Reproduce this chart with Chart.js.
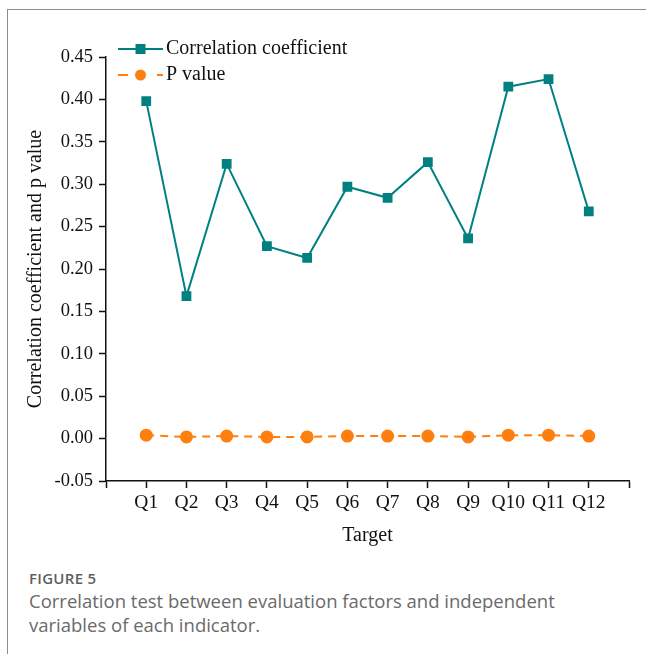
<!DOCTYPE html>
<html>
<head>
<meta charset="utf-8">
<script src="https://cdn.jsdelivr.net/npm/chart.js@4.4.1/dist/chart.umd.min.js"></script>
<style>
    html, body { margin: 0; padding: 0; background: #fff; }
    body { width: 646px; height: 654px; position: relative; overflow: hidden; }
    .frame {
        position: absolute; left: 7px; top: 9px; right: -5px; bottom: -5px;
        border-left: 1.5px solid #8c8c8c; border-top: 1.5px solid #8c8c8c;
    }
    #graph-box { position: absolute; left: 0; top: 0; width: 646px; height: 560px; }
    .caption {
        position: absolute; left: 29px; top: 567px; width: 610px;
        font-family: "Open Sans", "Noto Sans", sans-serif; color: #606060;
    }
    .caption .fig { font-size: 15px; font-weight: 600; letter-spacing: 0.3px; line-height: 22px; }
    .caption .txt { font-size: 18.5px; line-height: 24px; margin-top: 0px; color: #6a6a6a; }
</style>
</head>
<body>
<div class="frame"></div>
<div id="graph-box"><canvas id="graph"></canvas></div>
<div class="caption">
    <div class="fig">FIGURE 5</div>
    <div class="txt">Correlation test between evaluation factors and independent<br>variables of each indicator.</div>
</div>
<script>
const targets = ['Q1', 'Q2', 'Q3', 'Q4', 'Q5', 'Q6', 'Q7', 'Q8', 'Q9', 'Q10', 'Q11', 'Q12'];
const correlation = [0.398, 0.168, 0.324, 0.227, 0.213, 0.297, 0.284, 0.326, 0.236, 0.415, 0.424, 0.268];
const pValues = [0.004, 0.002, 0.003, 0.002, 0.002, 0.003, 0.003, 0.003, 0.002, 0.004, 0.004, 0.003];
const seriesNames = ['Correlation coefficient', 'P value'];

const serif = "'Liberation Serif', 'Times New Roman', serif";
const teal = '#008080';
const orange = '#ff7f0e';

function toPoints(values) {
    return values.map((v, i) => ({ x: i + 1, y: v }));
}

// legend drawn by hand so it can sit above the top of the plot area
const sideLegend = {
    id: 'sideLegend',
    afterDraw(chart) {
        const ctx = chart.ctx;
        const x0 = 118, x1 = 163, rowY = [49, 75];
        chart.data.datasets.forEach((ds, i) => {
            const y = rowY[i];
            ctx.save();
            ctx.strokeStyle = ds.borderColor;
            ctx.lineWidth = ds.borderWidth;
            ctx.beginPath();
            if (ds.borderDash) {
                ctx.moveTo(x0, y); ctx.lineTo(x0 + 10, y);
                ctx.moveTo(x1 - 6, y); ctx.lineTo(x1, y);
            } else {
                ctx.moveTo(x0, y); ctx.lineTo(x1, y);
            }
            ctx.stroke();
            ctx.fillStyle = ds.pointBackgroundColor;
            const cx = (x0 + x1) / 2;
            if (ds.pointStyle === 'rect') {
                ctx.fillRect(cx - 5, y - 5, 10, 10);
            } else {
                ctx.beginPath();
                ctx.arc(cx, y, 5.5, 0, Math.PI * 2);
                ctx.fill();
            }
            ctx.fillStyle = '#111';
            ctx.font = '20px ' + serif;
            ctx.textBaseline = 'middle';
            ctx.fillText(ds.label, x1 + 3, y);
            ctx.restore();
        });
    }
};

new Chart(document.getElementById('graph'), {
    type: 'line',
    data: {
        datasets: [
            {
                label: seriesNames[0],
                data: toPoints(correlation),
                borderColor: teal,
                backgroundColor: teal,
                pointBackgroundColor: teal,
                pointBorderColor: teal,
                borderWidth: 2,
                pointStyle: 'rect',
                pointRadius: 5.5,
                tension: 0
            },
            {
                label: seriesNames[1],
                data: toPoints(pValues),
                borderColor: orange,
                backgroundColor: orange,
                pointBackgroundColor: orange,
                pointBorderColor: orange,
                borderWidth: 2,
                borderDash: [8, 6],
                pointStyle: 'circle',
                pointRadius: 5.5,
                tension: 0
            }
        ]
    },
    options: {
        responsive: true,
        maintainAspectRatio: false,
        animation: false,
        layout: { padding: { top: 57, right: 17, left: 0, bottom: 0 } },
        plugins: {
            legend: { display: false },
            tooltip: { enabled: false }
        },
        scales: {
            x: {
                type: 'linear',
                min: 0,
                max: 13,
                afterFit(scale) { scale.height = 79; },
                ticks: {
                    stepSize: 1,
                    autoSkip: false,
                    maxRotation: 0,
                    padding: 3,
                    color: '#111',
                    font: { family: serif, size: 19.5 },
                    callback: v => targets[v - 1] || ''
                },
                grid: {
                    drawOnChartArea: false,
                    drawTicks: true,
                    tickLength: 7,
                    tickColor: '#111',
                    tickWidth: 1.5
                },
                border: { color: '#111', width: 1.5 },
                title: {
                    display: true,
                    text: 'Target',
                    color: '#111',
                    font: { family: serif, size: 20 },
                    padding: { top: 0, bottom: 12 }
                }
            },
            y: {
                min: -0.05,
                max: 0.45,
                afterFit(scale) { scale.width = 106; },
                ticks: {
                    stepSize: 0.025,
                    padding: 6,
                    color: '#111',
                    font: { family: serif, size: 18.5 },
                    callback: v => {
                        const k = Math.round(v / 0.025);
                        return k % 2 === 0 ? v.toFixed(2) : '';
                    }
                },
                grid: {
                    drawOnChartArea: false,
                    drawTicks: true,
                    tickLength: 7,
                    tickColor: '#111',
                    tickWidth: 1.5
                },
                border: { color: '#111', width: 1.5 },
                title: {
                    display: true,
                    text: 'Correlation coefficient and p value',
                    color: '#111',
                    font: { family: serif, size: 20 },
                    padding: { top: 24, bottom: 0 }
                }
            }
        }
    },
    plugins: [sideLegend]
});
</script>
</body>
</html>
